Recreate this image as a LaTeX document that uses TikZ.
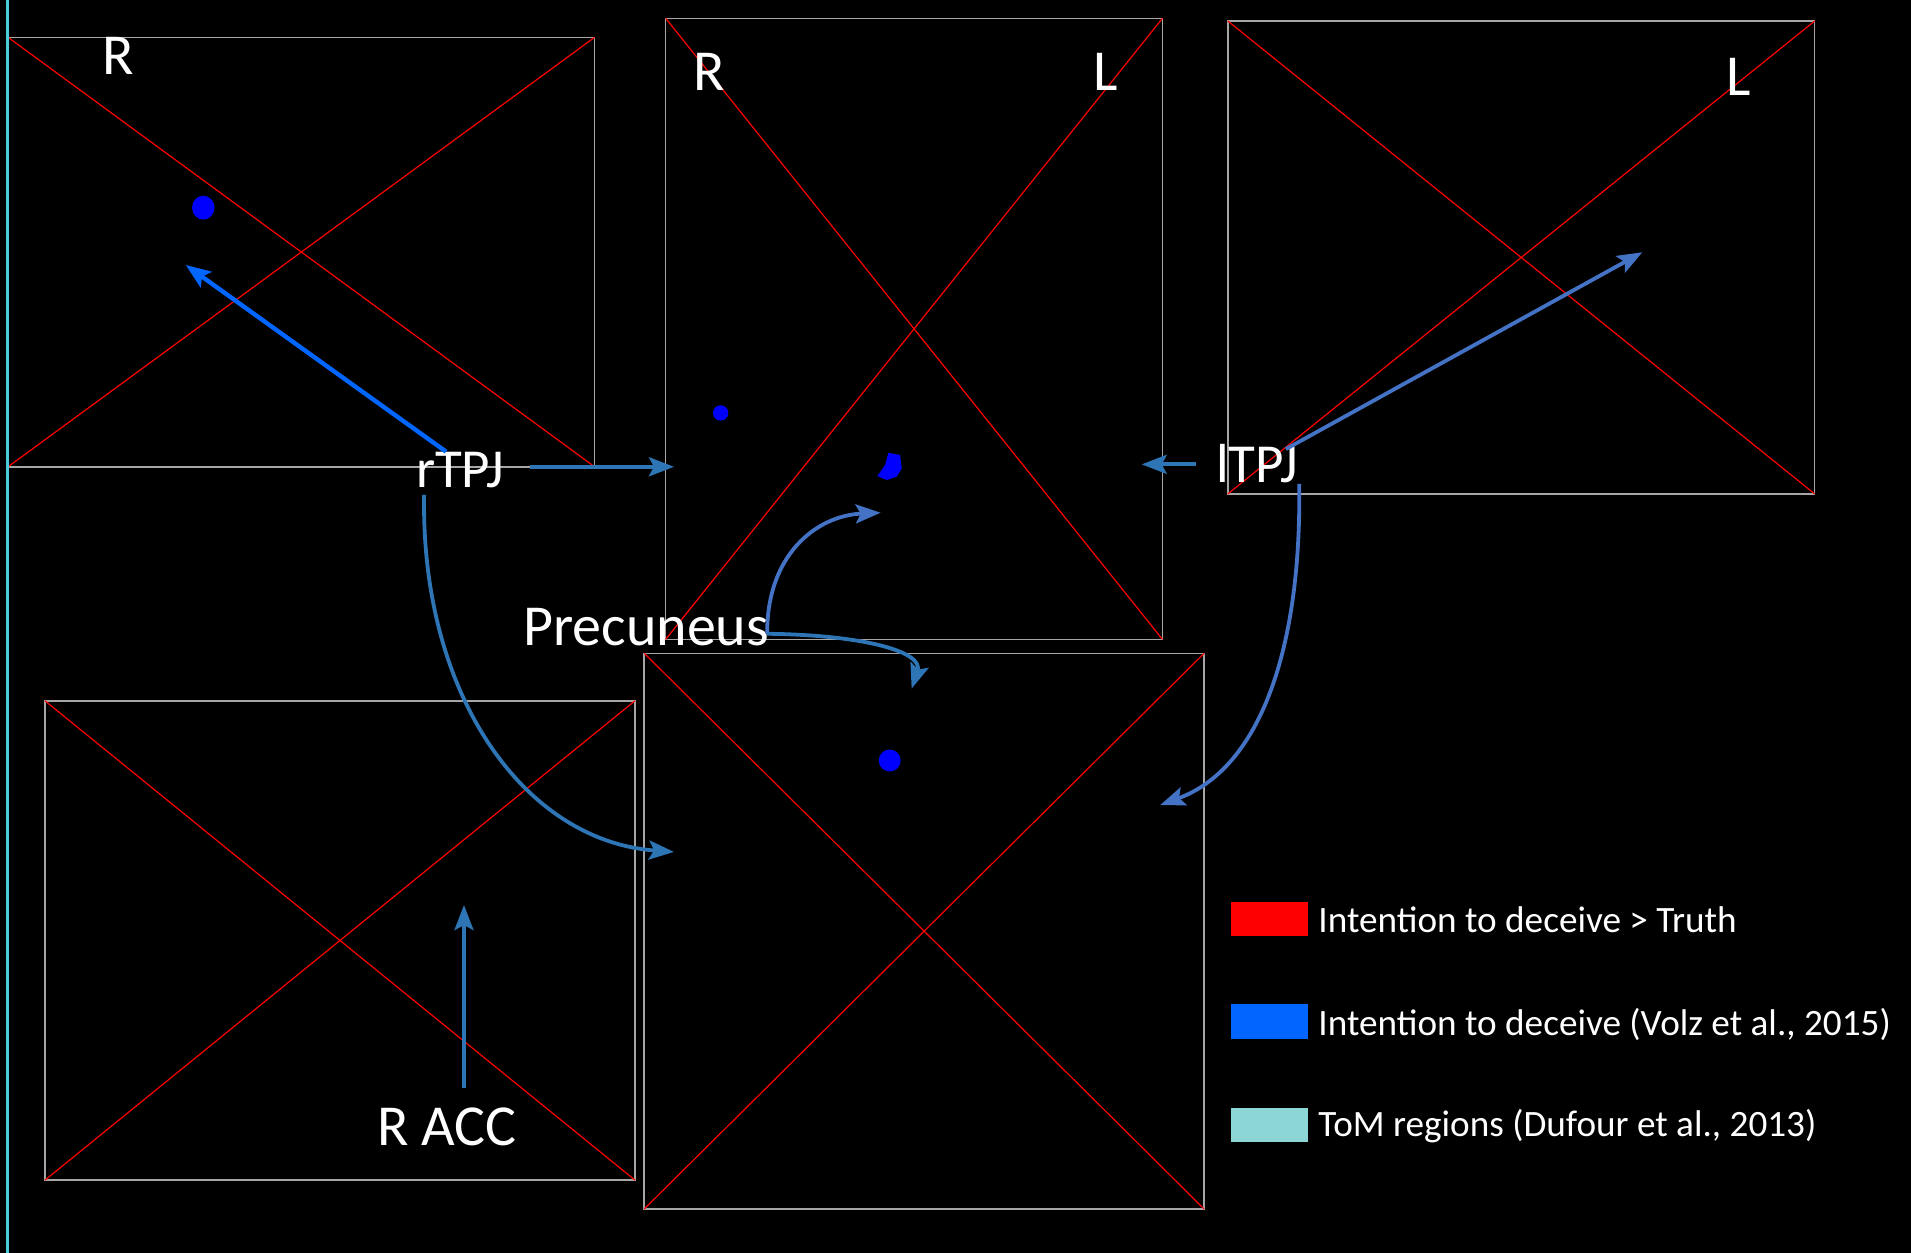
\documentclass[tikz,border=0pt]{standalone}
\usepackage{fontspec}
\setmainfont{Carlito}
\usetikzlibrary{arrows.meta,calc}
\definecolor{steel}{HTML}{2E75B6}
\definecolor{azure}{HTML}{0066FF}
\definecolor{accblue}{HTML}{4472C4}
\definecolor{boxgray}{HTML}{A6A6A6}
\definecolor{tomcyan}{HTML}{8CD6D6}
\definecolor{edgecyan}{HTML}{4CCBDB}
\definecolor{dotblue}{HTML}{0000FF}
\newcommand\panelbox[5]{%
  \draw[panel] (#2,#3) rectangle (#4,#5);
  \draw[diag] (#2,#3) -- (#4,#5) (#2,#5) -- (#4,#3);
  \coordinate (#1) at ($(#2,#3)!0.5!(#4,#5)$);}
\begin{document}
\begin{tikzpicture}[x=0.60935pt,y=-0.60935pt,
  panel/.style={draw=boxgray,line width=0.75pt},
  diag/.style={draw=red,line width=0.6pt},
  big/.style={text=white,font=\fontsize{29}{31}\selectfont,inner sep=0pt,anchor=base west},
  tpj/.style={text=white,font=\fontsize{27.5}{29}\selectfont,inner sep=0pt,anchor=base west},
  legtext/.style={text=white,font=\fontsize{18.6}{20}\selectfont,inner sep=0pt,anchor=base west},
  legbox/.style={minimum width=38.6pt,minimum height=17.2pt,inner sep=0pt,draw=none},
  arr/.style={line width=1.9pt,-{Stealth[length=12.5pt,width=9.5pt,inset=2.5pt]}},
  dot/.style={fill=dotblue,draw=none}]
\fill[black] (0,0) rectangle (1568,1028);
\useasboundingbox (0,0) rectangle (1568,1028);
% panels
\panelbox{pa}{6.6}{30.6}{487.9}{383}
\panelbox{pb}{546.2}{15}{953.8}{524.6}
\panelbox{pc}{1007.4}{17.2}{1489}{405.3}
\panelbox{pd}{36.9}{575}{521}{968.3}
\panelbox{pe}{528.6}{536}{988}{992}
\draw[edgecyan,line width=1.4pt] (5.9,0) -- (5.9,1028);
% blobs
\fill[dot] (166.8,170.4) ellipse [x radius=9.2, y radius=9.8];
\fill[dot] (591.3,338.8) circle [radius=6.3];
\fill[dot] (730,624) circle [radius=9];
\fill[dot] (728.9,371.5) -- (738.5,373.3) -- (739.9,384.3) -- (735.8,391.1) -- (727.6,393.9) -- (719.9,390.6) -- (726.2,381.6) -- cycle;
% labels
\node[big] (ra) at (83.5,61.5) {R};
\node[big] (rb) at (569,74) {R};
\node[big] (lb) at (897,74) {L};
\node[big] (lc) at (1416,78) {L};
\node[tpj] (rtpj) at (341,400) {rTPJ};
\node[tpj] (ltpj) at (997.5,396) {lTPJ};
\node[big] (prec) at (429,530) {Precuneus};
\node[big] (racc) at (309,939.5) {R ACC};
% connector ends
\coordinate (a1s) at (366,370.6);   \coordinate (a1t) at (152.4,217.4);
\coordinate (a2s) at (435.2,383);   \coordinate (a2t) at (553,383);
\coordinate (a3s) at (981.4,381);   \coordinate (a3t) at (936.8,381);
\coordinate (a4s) at (1055,368.5);  \coordinate (a4t) at (1347.5,207);
\coordinate (a5s) at (348,406);     \coordinate (a5t) at (553,699);
\coordinate (a6s) at (1066,397);    \coordinate (a6t) at (952,660.5);
\coordinate (a7s) at (629.5,520);   \coordinate (a7t) at (722.6,420.7);
\coordinate (a8s) at (629.5,520);   \coordinate (a8t) at (748,565);
\coordinate (a9s) at (380.7,893);   \coordinate (a9t) at (380.7,742.6);
% connectors
\draw[arr,azure,line width=2.2pt] (a1s) -- (a1t);
\draw[arr,steel] (a2s) -- (a2t);
\draw[arr,steel] (a3s) -- (a3t);
\draw[arr,accblue] (a4s) -- (a4t);
\draw[arr,steel] (a5s) .. controls (345,570) and (430,690) .. (a5t);
\draw[arr,accblue] (a6s) .. controls (1068,530) and (1035,630) .. (a6t);
\draw[arr,accblue] (a7s) .. controls (629,455) and (670,423) .. (a7t);
\draw[arr,steel] (a8s) .. controls (710,521) and (758,535) .. (a8t);
\draw[arr,steel] (a9s) -- (a9t);
% legend
\node[legbox,fill=red] (lg1) at (1041.6,753.8) {};
\node[legbox,fill=azure] (lg2) at (1041.6,838) {};
\node[legbox,fill=tomcyan] (lg3) at (1041.6,923.1) {};
\node[legtext] (lt1) at (1081.5,765) {Intention to deceive > Truth};
\node[legtext] (lt2) at (1081.5,849.3) {Intention to deceive (Volz et al., 2015)};
\node[legtext] (lt3) at (1081.5,932.7) {ToM regions (Dufour et al., 2013)};
\end{tikzpicture}
\end{document}
